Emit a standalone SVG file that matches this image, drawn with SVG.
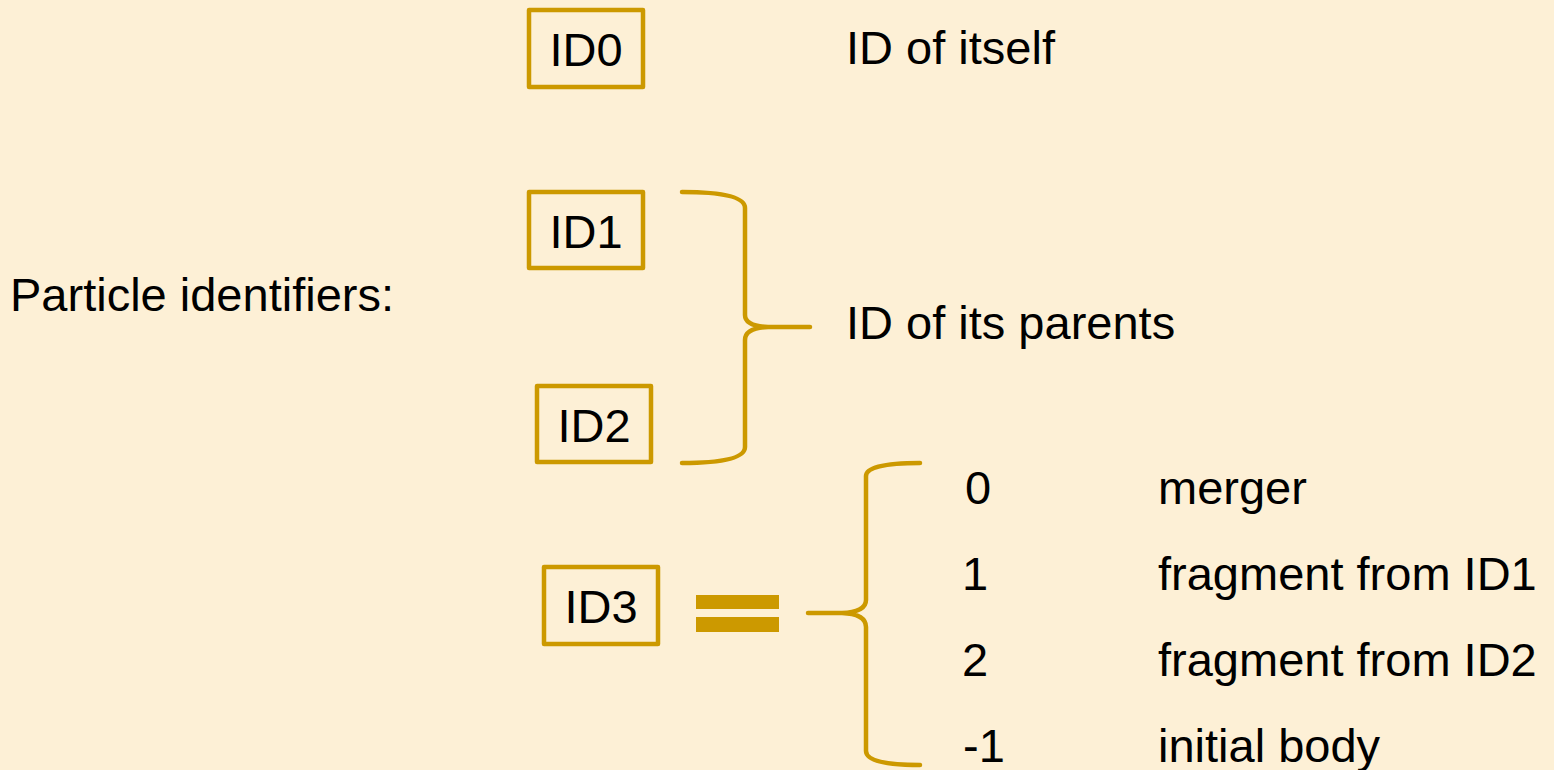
<svg xmlns="http://www.w3.org/2000/svg" width="1554" height="770" viewBox="0 0 1554 770">
<style>
.box{fill:none;stroke:#CC9900;stroke-width:4.5;stroke-linejoin:round}
.brace{fill:none;stroke:#CC9900;stroke-width:4.5;stroke-linecap:round;stroke-linejoin:round}
.t{font-family:"Liberation Sans",Arial,sans-serif;font-size:47px;fill:#000}
.c{text-anchor:middle}
</style>
<rect width="1554" height="770" fill="#FDF0D6"/>
<g id="title"><text class="t" x="10" y="311">Particle identifiers:</text></g>
<g id="id0"><rect class="box" x="529" y="10" width="114" height="77"/><text class="t c" x="586" y="66">ID0</text></g>
<g id="id0-label"><text class="t" x="846" y="64">ID of itself</text></g>
<g id="id1"><rect class="box" x="529" y="192" width="114" height="76"/><text class="t c" x="586" y="248">ID1</text></g>
<g id="id2"><rect class="box" x="537" y="386" width="114" height="76"/><text class="t c" x="594" y="442">ID2</text></g>
<g id="parents-label"><text class="t" x="846" y="339">ID of its parents</text></g>
<g id="id3"><rect class="box" x="544" y="567" width="114" height="77"/><text class="t c" x="601" y="623">ID3</text></g>
<g id="equals" fill="#CC9900"><rect x="696" y="595" width="83" height="14"/><rect x="696" y="617" width="83" height="15"/></g>
<g id="connectors">
<path class="brace" d="M682,192 Q745,192 745,208 L745,315 Q745,326 768,327 L810,327 M768,327 Q745,328 745,340 L745,447 Q745,463 682,463"/>
<path class="brace" d="M920,463 Q866,463 866,476 L866,600 Q866,612 842,613 L808,613 M842,613 Q866,614 866,627 L866,751 Q866,765 920,765"/>
</g>
<g id="values">
<text class="t" x="965" y="504">0</text><text class="t" x="1158" y="504">merger</text>
<text class="t" x="962" y="590">1</text><text class="t" x="1158" y="590">fragment from ID1</text>
<text class="t" x="962" y="676">2</text><text class="t" x="1158" y="676">fragment from ID2</text>
<text class="t" x="963" y="762">-1</text><text class="t" x="1158" y="762">initial body</text>
</g>
</svg>
